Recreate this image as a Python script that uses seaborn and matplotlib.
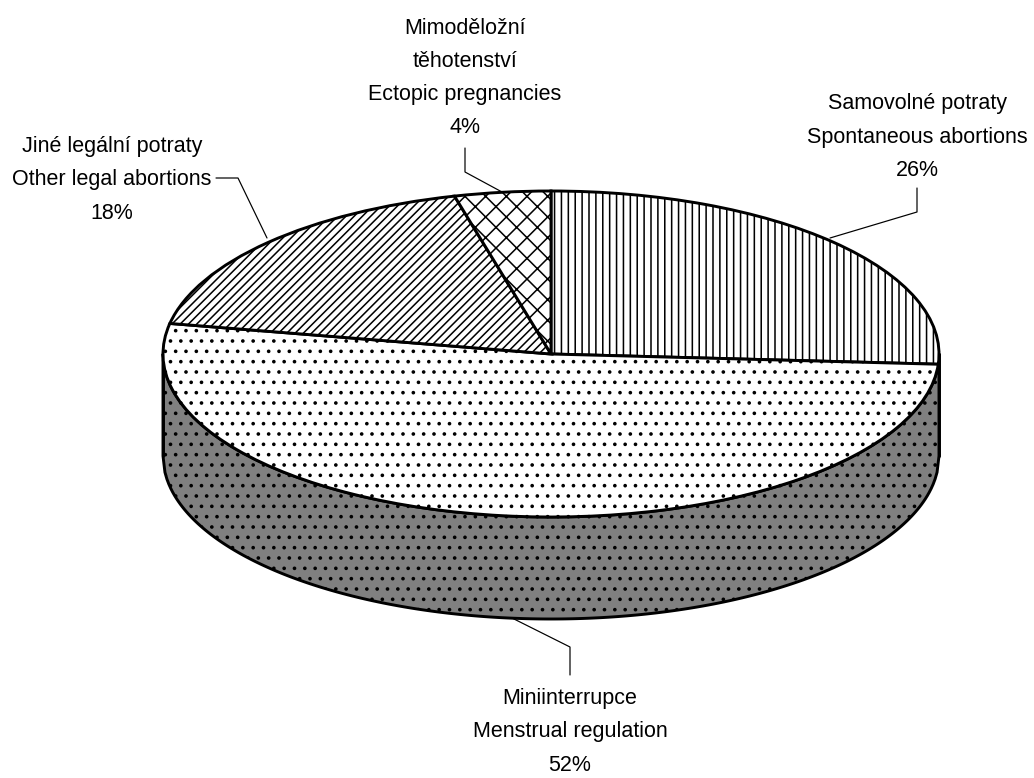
import numpy as np
import matplotlib
matplotlib.use('Agg')
import matplotlib.pyplot as plt
import seaborn as sns

# Data
labels_cz = ['Samovolné potraty', 'Miniinterrupce', 'Jiné legální potraty', 'Mimoděložní\ntěhotenství']
labels_en = ['Spontaneous abortions', 'Menstrual regulation', 'Other legal abortions', 'Ectopic pregnancies']
shares = [26, 52, 18, 4]
hatches = ['|||', '..', '/////', 'xx']

W, H = 1034, 778
CX, CY, RX, RY = 551, 354, 388, 163
DEPTH = 102 / RY

sns.set_theme(style='white')
plt.rcParams['font.family'] = ['Liberation Sans Narrow', 'Liberation Sans', 'DejaVu Sans']
plt.rcParams['hatch.linewidth'] = 0.9

# tile of the hatch follows dpi, 124 gives the line spacing of the original
DPI = 124
fig = plt.figure(figsize=(W / DPI, H / DPI), dpi=DPI)
ax = fig.add_axes([0, 0, 1, 1])


def px(x, y):
    # pixel position of the reference -> data coords
    return (x - CX) / RX, (CY - y) / RY


# side wall, below the front half of the ellipse
xs = np.linspace(-1, 1, 400)
front = -np.sqrt(1 - xs ** 2)
ax.fill_between(xs, front, front - DEPTH, facecolor='#808080', edgecolor='black',
                hatch='..', linewidth=1.7, zorder=1)
ax.plot([-1, -1], [0, -DEPTH], color='black', lw=1.7, zorder=1)
ax.plot([1, 1], [0, -DEPTH], color='black', lw=1.7, zorder=1)

wedges, _ = ax.pie(shares, startangle=90, counterclock=False, radius=1,
                   colors=['white'] * 4,
                   wedgeprops={'edgecolor': 'black', 'linewidth': 1.7, 'zorder': 2})
for w, h in zip(wedges, hatches):
    w.set_hatch(h)

ax.set_aspect('auto')
ax.set_xlim(-CX / RX, (W - CX) / RX)
ax.set_ylim((CY - H) / RY, CY / RY)
ax.axis('off')

# labels: centre x, centre y of the block, leader line
label_pos = [(917, 137), (570, 732), (112, 180), (465, 78)]
leaders = [
    [(917, 188), (917, 212), (830, 238)],
    [(570, 675), (570, 647), (512, 618)],
    [(216, 178), (238, 178), (267, 238)],
    [(465, 148), (465, 172), (502, 192)],
]

for cz, en, s, (tx, ty), line in zip(labels_cz, labels_en, shares, label_pos, leaders):
    x, y = px(tx, ty)
    ax.text(x, y, f'{cz}\n{en}\n{s}%', ha='center', va='center', fontsize=12.5,
            linespacing=1.77, color='black', zorder=5)
    pts = [px(*p) for p in line]
    ax.plot([p[0] for p in pts], [p[1] for p in pts], color='black', lw=0.7, zorder=3)

fig.savefig('out.png', dpi=DPI, facecolor='white')
